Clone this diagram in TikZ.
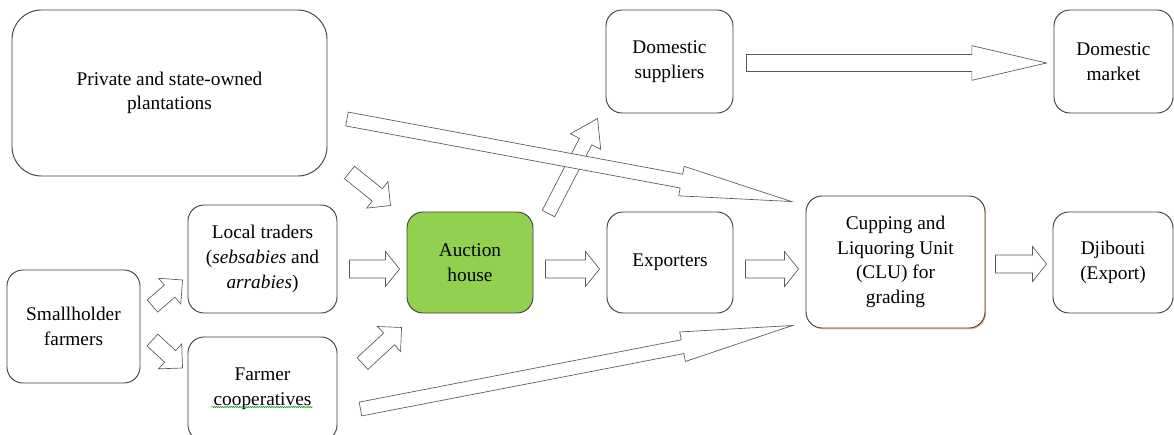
\documentclass[tikz,border=0pt]{standalone}
\usepackage{fontspec}
\setmainfont{Liberation Serif}
\newfontfamily\boxfont{Liberation Serif}
\usetikzlibrary{calc, shadows, decorations.pathmorphing}

\definecolor{auctgreen}{HTML}{92D050}

\tikzset{
    box/.style={draw=black!75, line width=0.7pt, rounded corners=12pt, align=center,
                inner sep=2pt, font=\boxfont\fontsize{14.5}{18.5}\selectfont},
    % hollow block arrow: half shaft width, half head width, head length
    fat/.style n args={3}{draw=black!65, line width=0.5pt, fill=white,
        to path={let \p1=(\tikztostart), \p2=(\tikztotarget),
                     \n1={atan2(\y2-\y1,\x2-\x1)}, \p3=($(\p2)!#3!(\p1)$) in
            ($(\p1)+(\n1+90:#1)$) -- ($(\p3)+(\n1+90:#1)$) -- ($(\p3)+(\n1+90:#2)$)
            -- (\p2) -- ($(\p3)+(\n1-90:#2)$) -- ($(\p3)+(\n1-90:#1)$)
            -- ($(\p1)+(\n1-90:#1)$) -- cycle}},
    stub/.style={fat={6pt}{12.75pt}{12.75pt}},
    flat/.style={fat={6.75pt}{13.1pt}{10.5pt}},
    long/.style={fat={5.25pt}{11.25pt}{84pt}},
}

\begin{document}
\begin{tikzpicture}[x=0.75pt, y=-0.75pt]
        \useasboundingbox (0,0) rectangle (1174,435);
        % producers
        \node (plant) [box, rounded corners=22pt, minimum width=236.25pt, minimum height=124.5pt]
            at (169.5,93) {Private and state-owned\\plantations};
        \node (small) [box, minimum width=99.75pt, minimum height=84.75pt] at (73.5,326.5) {Smallholder\\farmers};
        \node (trad) [box, minimum width=111.75pt, minimum height=81pt] at (262.5,259)
            {Local traders\\(\textit{sebsabies} and\\\textit{arrabies})};
        \node (coop) [box, minimum width=111.75pt, minimum height=78pt] at (262.5,389) {Farmer\\cooperatives};
        \draw[green!55!black, line width=0.4pt, decorate, decoration={snake, amplitude=0.4pt, segment length=1.6pt}]
            ([shift={(-51,18)}]coop.center) -- ([shift={(50,18)}]coop.center);
        % market chain
        \node (auct) [box, fill=auctgreen, minimum width=94.5pt, minimum height=75.75pt] at (470,262.5) {Auction\\house};
        \node (expo) [box, minimum width=94.5pt, minimum height=75.75pt] at (670,262.5) {Exporters};
        \node (clu) [box, fill=white, minimum width=134.25pt, minimum height=99pt,
            drop shadow={shadow xshift=0.9pt, shadow yshift=-1pt, fill=brown!60!orange, opacity=0.5}]
            at (895.5,262) {Cupping and\\Liquoring Unit\\(CLU) for\\grading};
        \node (djib) [box, minimum width=90pt, minimum height=75.75pt] at (1113,262.5) {Djibouti\\(Export)};
        \node (dsup) [box, minimum width=95.25pt, minimum height=77.25pt] at (669.5,61.5) {Domestic\\suppliers};
        \node (dmkt) [box, minimum width=89.25pt, minimum height=77.25pt] at (1113.5,61.5) {Domestic\\market};

        % short arrows
        \draw[stub] ([shift={(12,-20.5)}]small.east) to ([shift={(-5,21)}]trad.west);
        \draw[stub] ([shift={(12,13.5)}]small.east) to ([shift={(-5,-21)}]coop.west);
        \draw[stub] ([shift={(22,-4)}]plant.south east) to ([shift={(-16,-6)}]auct.north west);
        \draw[stub] ([shift={(25,27)}]coop.north east) to ([shift={(-5,14)}]auct.south west);
        \draw[fat={5.25pt}{12.75pt}{19.5pt}] ([shift={(15,2)}]auct.north east) to ([shift={(-8,5)}]dsup.south west);
        \foreach \a/\b/\s/\t in {trad/auct/10/6.5, auct/expo/6.5/6.5, expo/clu/6.5/7}
            \draw[flat] ([shift={(12,\s)}]\a.east) to ([shift={(-7,\t)}]\b.west);
        \draw[flat] ([shift={(10,2)}]clu.east) to ([shift={(-6,1.5)}]djib.west);
        % long arrows
        \draw[fat={6.4pt}{13pt}{56pt}] ([shift={(13,1.5)}]dsup.east) to ([shift={(-7,1.5)}]dmkt.west);
        \draw[long] ([shift={(19.5,26)}]plant.east) to ([shift={(-14,6)}]clu.north west);
        \draw[long] ([shift={(23,20)}]coop.east) to ([shift={(-13,-3)}]clu.south west);
\end{tikzpicture}
\end{document}
